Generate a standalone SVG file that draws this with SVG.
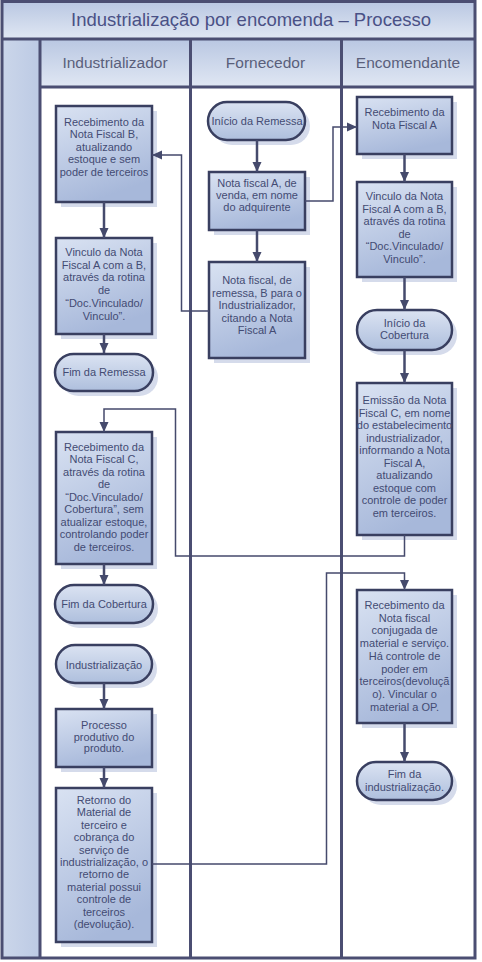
<svg xmlns="http://www.w3.org/2000/svg" width="482" height="962" viewBox="0 0 482 962">
<defs>
<linearGradient id="band" x1="0" y1="0" x2="0" y2="1"><stop offset="0" stop-color="#b9c7e2"/><stop offset="1" stop-color="#e0e7f3"/></linearGradient>
<linearGradient id="gut" x1="0" y1="0" x2="1" y2="0"><stop offset="0" stop-color="#cbd6ea"/><stop offset="1" stop-color="#bccae4"/></linearGradient>
<linearGradient id="ng" x1="0" y1="0" x2="0.35" y2="1"><stop offset="0" stop-color="#d9e2f2"/><stop offset="1" stop-color="#a7b8da"/></linearGradient>
<linearGradient id="tg" x1="0" y1="0" x2="0" y2="1"><stop offset="0" stop-color="#dbe3f2"/><stop offset="1" stop-color="#aebfdd"/></linearGradient>
<marker id="ah" markerUnits="userSpaceOnUse" markerWidth="10" markerHeight="10" viewBox="0 0 10 10" refX="10" refY="5" orient="auto"><path d="M0,0.5 L10,5 L0,9.5 Z" fill="#454a6c"/></marker>
</defs>
<style>
.frame{fill:none;stroke:#4b4e72;stroke-width:3}
.ln{stroke:#4b4e72;stroke-width:3}
.box{fill:url(#ng);stroke:#393f60;stroke-width:2.5}
.term{fill:url(#tg);stroke:#393f60;stroke-width:2.5}
.sh{fill:#c3cce2;opacity:.7}
.t{font-family:"Liberation Sans",Arial,sans-serif;font-size:11px;fill:#434b73;text-anchor:middle}
.hd{font-family:"Liberation Sans",Arial,sans-serif;font-size:15.5px;fill:#5a5f7b;text-anchor:middle}
.ttl{font-family:"Liberation Sans",Arial,sans-serif;font-size:18.5px;fill:#4a5186;text-anchor:middle}
.a{fill:none;stroke:#454a6c;stroke-width:2.5;marker-end:url(#ah)}
.c{fill:none;stroke:#454a6c;stroke-width:1.5}
.ca{fill:none;stroke:#454a6c;stroke-width:1.5;marker-end:url(#ah)}
</style>
<rect x="0" y="0" width="482" height="962" fill="#ffffff"/>
<g id="pool">
<rect x="2" y="1.5" width="473" height="37.5" fill="url(#band)"/>
<rect x="2" y="39" width="38" height="919" fill="url(#gut)"/>
<rect x="40" y="39" width="435" height="48" fill="url(#band)"/>
<rect x="2" y="1.5" width="473" height="956.5" class="frame"/>
<line x1="2" y1="39" x2="475" y2="39" class="ln"/>
<line x1="40" y1="87" x2="475" y2="87" class="ln"/>
<line x1="40" y1="39" x2="40" y2="958" class="ln"/>
<line x1="190.5" y1="39" x2="190.5" y2="958" class="ln"/>
<line x1="341.5" y1="39" x2="341.5" y2="958" class="ln"/>
<text x="251" y="26" class="ttl">Industrialização por encomenda – Processo</text>
<text x="115" y="68" class="hd">Industrializador</text>
<text x="265.5" y="68" class="hd">Fornecedor</text>
<text x="408" y="68" class="hd">Encomendante</text>
</g>
<g id="n1"><rect x="61" y="111" width="96" height="96" class="sh"/><rect x="56" y="106" width="96" height="96" class="box"/>
<text class="t"><tspan x="104" y="126">Recebimento da</tspan><tspan x="104" dy="12.4">Nota Fiscal B,</tspan><tspan x="104" dy="12.4">atualizando</tspan><tspan x="104" dy="12.4">estoque e sem</tspan><tspan x="104" dy="12.4">poder de terceiros</tspan></text></g>
<g id="n2"><rect x="61" y="243" width="96" height="96" class="sh"/><rect x="56" y="238" width="96" height="96" class="box"/>
<text class="t"><tspan x="104" y="255.7">Vinculo da Nota</tspan><tspan x="104" dy="12.8">Fiscal A com a B,</tspan><tspan x="104" dy="12.8">através da rotina</tspan><tspan x="104" dy="12.8">de</tspan><tspan x="104" dy="12.8">“Doc.Vinculado/</tspan><tspan x="104" dy="12.8">Vinculo”.</tspan></text></g>
<g id="n3"><rect x="60" y="359" width="98" height="37" rx="18.5" class="sh"/><rect x="55" y="354" width="98" height="37" rx="18.5" class="term"/>
<text x="104" y="376" class="t">Fim da Remessa</text></g>
<g id="f0"><rect x="213" y="107" width="97" height="38" rx="19" class="sh"/><rect x="208" y="102" width="97" height="38" rx="19" class="term"/>
<text x="257" y="124.5" class="t">Início da Remessa</text></g>
<g id="f1"><rect x="214" y="177" width="96" height="58" class="sh"/><rect x="209" y="172" width="96" height="58" class="box"/>
<text class="t"><tspan x="257" y="186.5">Nota fiscal A, de</tspan><tspan x="257" dy="12.2">venda, em nome</tspan><tspan x="257" dy="12.2">do adquirente</tspan></text></g>
<g id="f2"><rect x="214" y="267" width="96" height="96" class="sh"/><rect x="209" y="262" width="96" height="96" class="box"/>
<text class="t"><tspan x="257" y="284">Nota fiscal, de</tspan><tspan x="257" dy="12.5">remessa, B para o</tspan><tspan x="257" dy="12.5">Industrializador,</tspan><tspan x="257" dy="12.5">citando a Nota</tspan><tspan x="257" dy="12.5">Fiscal A</tspan></text></g>
<g id="e0"><rect x="362" y="102" width="95" height="57" class="sh"/><rect x="357" y="97" width="95" height="57" class="box"/>
<text class="t"><tspan x="404.5" y="116">Recebimento da</tspan><tspan x="404.5" dy="12.8">Nota Fiscal A</tspan></text></g>
<g id="e1"><rect x="362" y="187" width="95" height="95" class="sh"/><rect x="357" y="182" width="95" height="95" class="box"/>
<text class="t"><tspan x="404.5" y="200">Vinculo da Nota</tspan><tspan x="404.5" dy="12.6">Fiscal A com a B,</tspan><tspan x="404.5" dy="12.6">através da rotina</tspan><tspan x="404.5" dy="12.6">de</tspan><tspan x="404.5" dy="12.6">“Doc.Vinculado/</tspan><tspan x="404.5" dy="12.6">Vinculo”.</tspan></text></g>
<g id="e2"><rect x="362" y="315" width="95" height="40" rx="20" class="sh"/><rect x="357" y="310" width="95" height="40" rx="20" class="term"/>
<text class="t"><tspan x="404.5" y="326.8">Início da</tspan><tspan x="404.5" dy="12.4">Cobertura</tspan></text></g>
<g id="e3"><rect x="362" y="388" width="95" height="152" class="sh"/><rect x="357" y="383" width="95" height="152" class="box"/>
<text class="t"><tspan x="404.5" y="404">Emissão da Nota</tspan><tspan x="404.5" dy="12.5">Fiscal C, em nome</tspan><tspan x="404.5" dy="12.5">do estabelecimento</tspan><tspan x="404.5" dy="12.5">industrializador,</tspan><tspan x="404.5" dy="12.5">informando a Nota</tspan><tspan x="404.5" dy="12.5">Fiscal A,</tspan><tspan x="404.5" dy="12.5">atualizando</tspan><tspan x="404.5" dy="12.5">estoque com</tspan><tspan x="404.5" dy="12.5">controle de poder</tspan><tspan x="404.5" dy="12.5">em terceiros.</tspan></text></g>
<g id="i1"><rect x="61" y="437" width="96" height="132" class="sh"/><rect x="56" y="432" width="96" height="132" class="box"/>
<text class="t"><tspan x="104" y="450.7">Recebimento da</tspan><tspan x="104" dy="12.5">Nota Fiscal C,</tspan><tspan x="104" dy="12.5">através da rotina</tspan><tspan x="104" dy="12.5">de</tspan><tspan x="104" dy="12.5">“Doc.Vinculado/</tspan><tspan x="104" dy="12.5">Cobertura”, sem</tspan><tspan x="104" dy="12.5">atualizar estoque,</tspan><tspan x="104" dy="12.5">controlando poder</tspan><tspan x="104" dy="12.5">de terceiros.</tspan></text></g>
<g id="i2"><rect x="60" y="590" width="98" height="38" rx="19" class="sh"/><rect x="55" y="585" width="98" height="38" rx="19" class="term"/>
<text x="104" y="607.5" class="t">Fim da Cobertura</text></g>
<g id="i3"><rect x="61" y="650" width="96" height="38" rx="19" class="sh"/><rect x="56" y="645" width="96" height="38" rx="19" class="term"/>
<text x="104" y="668.5" class="t">Industrialização</text></g>
<g id="i4"><rect x="61" y="714" width="96" height="58" class="sh"/><rect x="56" y="709" width="96" height="58" class="box"/>
<text class="t"><tspan x="104" y="728.8">Processo</tspan><tspan x="104" dy="11.8">produtivo do</tspan><tspan x="104" dy="11.8">produto.</tspan></text></g>
<g id="i5"><rect x="61" y="793" width="96" height="154" class="sh"/><rect x="56" y="788" width="96" height="154" class="box"/>
<text class="t"><tspan x="104" y="804">Retorno do</tspan><tspan x="104" dy="12.4">Material de</tspan><tspan x="104" dy="12.4">terceiro e</tspan><tspan x="104" dy="12.4">cobrança do</tspan><tspan x="104" dy="12.4">serviço de</tspan><tspan x="104" dy="12.4">industrialização, o</tspan><tspan x="104" dy="12.4">retorno de</tspan><tspan x="104" dy="12.4">material possui</tspan><tspan x="104" dy="12.4">controle de</tspan><tspan x="104" dy="12.4">terceiros</tspan><tspan x="104" dy="12.4">(devolução).</tspan></text></g>
<g id="e4"><rect x="362" y="595" width="95" height="133" class="sh"/><rect x="357" y="590" width="95" height="133" class="box"/>
<text class="t"><tspan x="404.5" y="609">Recebimento da</tspan><tspan x="404.5" dy="12.7">Nota fiscal</tspan><tspan x="404.5" dy="12.7">conjugada de</tspan><tspan x="404.5" dy="12.7">material e serviço.</tspan><tspan x="404.5" dy="12.7">Há controle de</tspan><tspan x="404.5" dy="12.7">poder em</tspan><tspan x="404.5" dy="12.7">terceiros(devoluçã</tspan><tspan x="404.5" dy="12.7">o). Vincular o</tspan><tspan x="404.5" dy="12.7">material a OP.</tspan></text></g>
<g id="e5"><rect x="362" y="767" width="95" height="38" rx="19" class="sh"/><rect x="357" y="762" width="95" height="38" rx="19" class="term"/>
<text class="t"><tspan x="404.5" y="777.5">Fim da</tspan><tspan x="404.5" dy="13.5">industrialização.</tspan></text></g>
<g id="connectors">
<path d="M104,202 V238" class="a"/>
<path d="M104,334 V353" class="a"/>
<path d="M257,140 V172" class="a"/>
<path d="M257,230 V262" class="a"/>
<path d="M404.5,154 V182" class="a"/>
<path d="M404.5,277 V310" class="a"/>
<path d="M404.5,350 V383" class="a"/>
<path d="M104,564 V585" class="a"/>
<path d="M104,683 V709" class="a"/>
<path d="M104,767 V788" class="a"/>
<path d="M404.5,723 V762" class="a"/>
<path d="M209,311 H181.5 V155 H152" class="ca"/>
<path d="M305,201 H333 V127 H357" class="ca"/>
<path d="M404.5,535 V556 H175.5 V409 H104 V432" class="ca"/>
<path d="M152,864 H326.5 V573 H404.5 V590" class="ca"/>
</g>
</svg>
